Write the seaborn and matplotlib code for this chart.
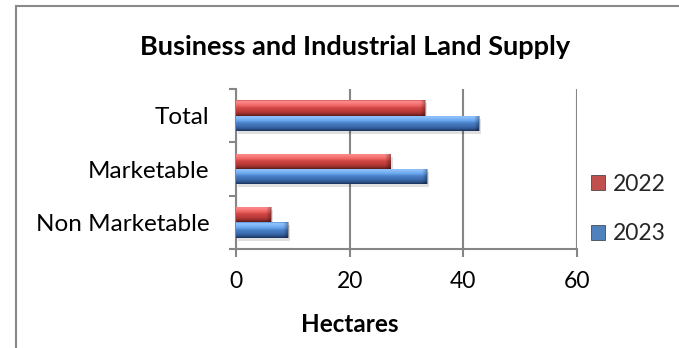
import numpy as np
import pandas as pd
import matplotlib
matplotlib.use("Agg")
import matplotlib.pyplot as plt
import matplotlib.transforms as mtransforms
import seaborn as sns
from matplotlib.colors import LinearSegmentedColormap
from matplotlib.patches import Rectangle, Patch

# ---- data ----
categories = ["Total", "Marketable", "Non Marketable"]
years = ["2022", "2023"]
values_2022 = [33.2, 27.2, 6.1]
values_2023 = [42.7, 33.6, 9.1]
x_ticks = [0, 20, 40, 60]
title = "Business and Industrial Land Supply"
x_label = "Hectares"

df = pd.DataFrame({
    "Category": categories * 2,
    "Year": [years[0]] * len(categories) + [years[1]] * len(categories),
    "Hectares": values_2022 + values_2023,
})

sns.set_theme(style="white")
plt.rcParams["font.family"] = ["Lato", "DejaVu Sans"]

W, H = 679, 348
fig = plt.figure(figsize=(W / 100, H / 100), dpi=100)
fig.patch.set_facecolor("white")
ax = fig.add_axes([236 / W, 99 / H, 341 / W, 160 / H])

base = {"2022": "#C0504D", "2023": "#4F81BD"}
sns.barplot(data=df, y="Category", x="Hectares", hue="Year", order=categories,
            hue_order=years, palette=base, orient="h", width=0.58, ax=ax,
            legend=False, saturation=1, edgecolor="none", zorder=3)

grad_stops = {
    "2022": [(0.0, "#D05656"), (0.08, "#FF8E8E"), (0.35, "#EE6462"),
             (0.5, "#D04644"), (0.75, "#B43936"), (0.9, "#8A2A28"), (1.0, "#5A1A19")],
    "2023": [(0.0, "#5590D6"), (0.08, "#94C6FF"), (0.35, "#68A6EC"),
             (0.5, "#4A80C8"), (0.75, "#3A69AA"), (0.9, "#2A4D84"), (1.0, "#1A3255")],
}
cmaps = {k: LinearSegmentedColormap.from_list(k, v) for k, v in grad_stops.items()}

bars = [p for p in ax.patches if isinstance(p, Rectangle)]
shadow_tr = mtransforms.offset_copy(ax.transData, fig=fig, x=2, y=-3, units="dots")
for i, p in enumerate(bars):
    yr = years[0] if i < len(categories) else years[1]
    x0, y0, w, h = p.get_x(), p.get_y(), p.get_width(), p.get_height()
    ax.add_patch(Rectangle((x0, y0), w, h, transform=shadow_tr, fc="#000000",
                           alpha=0.12, ec="none", zorder=2))
    g = cmaps[yr](np.linspace(0, 1, 64))[:, None, :]
    im = ax.imshow(g, extent=(x0, x0 + w, y0 + h, y0), aspect="auto",
                   interpolation="bilinear", zorder=3.5)
    im.set_clip_path(p)
    bw = 0.9
    shade = np.zeros((1, 16, 4))
    shade[..., 3] = np.linspace(0, 0.35, 16)[None, :]
    im2 = ax.imshow(shade, extent=(x0 + w - bw, x0 + w, y0 + h, y0), aspect="auto",
                    interpolation="bilinear", zorder=3.6)
    im2.set_clip_path(p)
ax.set_xlim(0, 60)
ax.set_ylim(2.5, -0.5)

gray = "#868686"
ax.set_xticks(x_ticks)
ax.xaxis.grid(True, color=gray, lw=1.5, zorder=0)
ax.set_axisbelow(True)
for s in ["top", "right"]:
    ax.spines[s].set_visible(False)
for s in ["left", "bottom"]:
    ax.spines[s].set_color(gray)
    ax.spines[s].set_linewidth(1.5)
ax.set_xlabel("")
ax.set_ylabel("")
ax.tick_params(axis="x", which="major", bottom=True, length=6, width=1.5, color=gray,
               labelsize=16.5, pad=10, labelcolor="black")
ax.tick_params(axis="y", which="major", left=False, length=0, labelsize=17.5, pad=19,
               labelcolor="black")
ax.set_yticks([-0.5, 0.5, 1.5, 2.5], minor=True)
ax.tick_params(axis="y", which="minor", left=True, length=5, width=1.5, color=gray)

fig.text(355 / W, 1 - 47 / H, title, ha="center", va="center", fontsize=19.5,
         fontweight="bold", color="black")
fig.text(350 / W, 1 - 324 / H, x_label, ha="center", va="center", fontsize=17.5,
         fontweight="bold", color="black")

handles = [Patch(fc=base[y], ec="#333333", lw=0.5) for y in years]
fig.legend(handles=handles, labels=years, loc="center left",
           bbox_to_anchor=(591 / W, 1 - 209 / H), frameon=False, handlelength=0.6,
           handleheight=0.6, labelspacing=1.25, handletextpad=0.35, fontsize=16.5,
           borderaxespad=0, borderpad=0)

fig.add_artist(Rectangle((16 / W, -0.1), 1.2, 1 - 6 / H + 0.1,
                         transform=fig.transFigure, fill=False, ec="#898989", lw=1.5))

fig.savefig("out.png", dpi=100)
